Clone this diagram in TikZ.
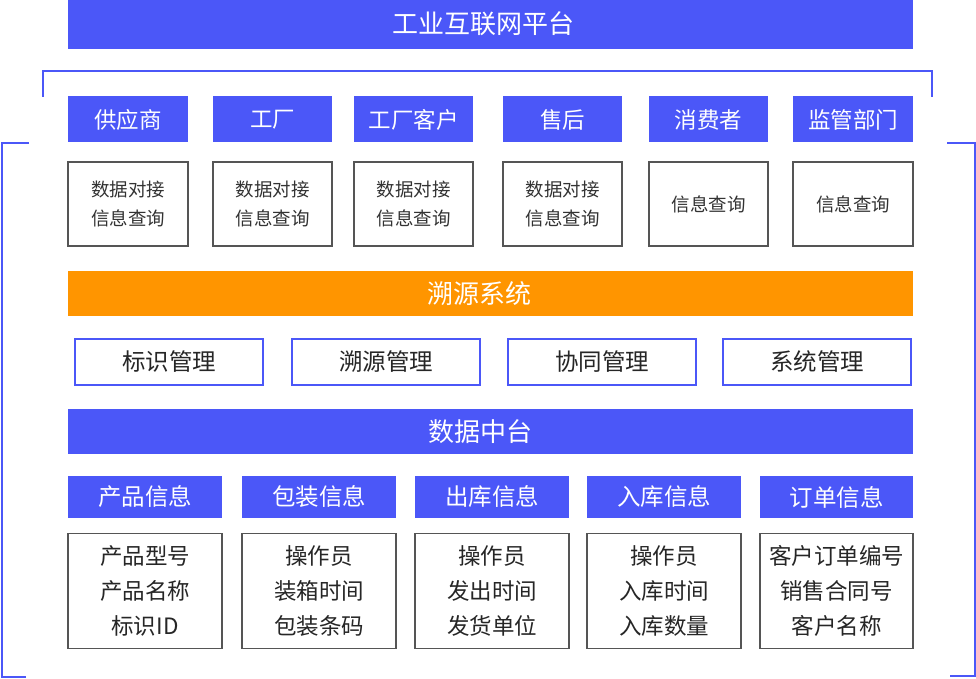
\documentclass[tikz,border=0pt]{standalone}
\usepackage{fontspec}
\setmainfont{Noto Sans CJK SC}
\definecolor{pblue}{HTML}{4B57F8}
\definecolor{porange}{HTML}{FF9500}
\definecolor{pgray}{HTML}{555555}
\definecolor{ptext}{HTML}{333333}
\tikzset{
  bar/.style={fill=pblue, draw=none, minimum width=845pt, minimum height=46pt, inner sep=0pt},
  obar/.style={bar, fill=porange},
  barlabel/.style={text=white, font=\fontsize{26}{30}\selectfont, inner sep=0pt},
  hdr/.style={fill=pblue, draw=none, text=white, font=\fontsize{22.5}{26}\selectfont, minimum height=46pt, inner sep=0pt},
  ihdr/.style={hdr, font=\fontsize{23.5}{27}\selectfont, minimum width=154pt, minimum height=42pt},
  gbox/.style={draw=pgray, line width=1.8pt, fill=white, text=ptext, align=center, font=\fontsize{18.5}{28.5}\selectfont, minimum width=120pt, minimum height=84pt, inner sep=0pt},
  mbox/.style={draw=pblue, line width=1.8pt, fill=white, text=black!85, font=\fontsize{23.5}{27}\selectfont, minimum width=188pt, minimum height=46pt, inner sep=0pt},
  ibox/.style={draw=pgray, line width=1.8pt, fill=white, text=black!85, align=center, font=\fontsize{22.5}{35}\selectfont, minimum width=154pt, minimum height=115pt, inner sep=0pt},
  brk/.style={draw=pblue, line width=1.6pt},
}
\begin{document}
\begin{tikzpicture}[x=1pt,y=-1pt]
\useasboundingbox (0,0) rectangle (976,679);
% top platform bar
\node[bar, minimum height=49pt] (top) at (490.5,24.5) {};
\node[barlabel] (topl) at ([xshift=-7pt,yshift=0.5pt]top.center) {工业互联网平台};
% brackets
\draw[brk] (43,97) -- (43,71) -- (932,71) -- (932,97);
\draw[brk] (29,143) -- (2,143) -- (2,677) -- (26,677);
\draw[brk] (947,143) -- (975,143) -- (975,676) -- (950,676);
% row 1 headers
\node[hdr, minimum width=120pt] (h1) at (128,119.5) {供应商};
\node[hdr, minimum width=119pt] (h2) at (272.5,119.5) {工厂};
\node[hdr, minimum width=119pt] (h3) at (413.5,119.5) {工厂客户};
\node[hdr, minimum width=119pt] (h4) at (562.5,119.5) {售后};
\node[hdr, minimum width=119pt] (h5) at (708.5,119.5) {消费者};
\node[hdr, minimum width=120pt] (h6) at (853,119.5) {监管部门};
% row 1 gray boxes
\node[gbox] (g1) at (128,204) {数据对接\\信息查询};
\node[gbox, minimum width=119pt] (g2) at (272.5,204) {数据对接\\信息查询};
\node[gbox, minimum width=119pt] (g3) at (413.5,204) {数据对接\\信息查询};
\node[gbox, minimum width=119pt] (g4) at (562.5,204) {数据对接\\信息查询};
\node[gbox, minimum width=119pt] (g5) at (708.5,204) {信息查询};
\node[gbox] (g6) at (853,204) {信息查询};
% trace system
\node[obar, minimum height=45pt] (trace) at (490.5,293.5) {};
\node[barlabel] (tracel) at ([xshift=-11pt]trace.center) {溯源系统};
\node[mbox] (m1) at (169,362) {标识管理};
\node[mbox] (m2) at (386,362) {溯源管理};
\node[mbox] (m3) at (602,362) {协同管理};
\node[mbox] (m4) at (817,362) {系统管理};
% data platform
\node[bar, minimum height=45pt] (data) at (490.5,431.5) {};
\node[barlabel] (datal) at ([xshift=-10pt]data.center) {数据中台};
\node[ihdr] (i1) at (145,497) {产品信息};
\node[ihdr] (i2) at (319,497) {包装信息};
\node[ihdr] (i3) at (492,497) {出库信息};
\node[ihdr] (i4) at (664,497) {入库信息};
\node[ihdr, minimum width=153pt] (i5) at (836.5,497) {订单信息};
\node[ibox] (b1) at (145,591) {产品型号\\产品名称\\标识ID};
\node[ibox] (b2) at (319,591) {操作员\\装箱时间\\包装条码};
\node[ibox] (b3) at (492,591) {操作员\\发出时间\\发货单位};
\node[ibox] (b4) at (664,591) {操作员\\入库时间\\入库数量};
\node[ibox, minimum width=153pt] (b5) at (836.5,591) {客户订单编号\\销售合同号\\客户名称};
\end{tikzpicture}
\end{document}
